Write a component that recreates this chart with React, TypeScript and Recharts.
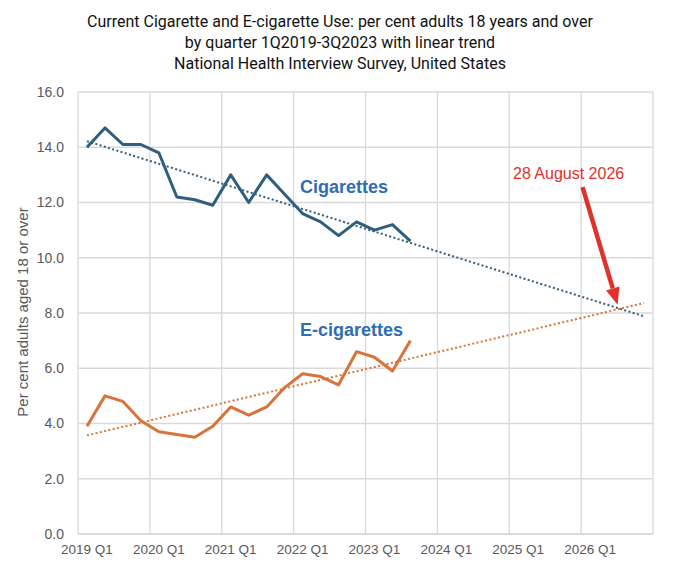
import { LineChart, Line, XAxis, YAxis, CartesianGrid, ReferenceLine } from 'recharts'

// quarter labels along the x axis (one per category, 2019 Q1 .. 2026 Q4)
const years = [2019, 2020, 2021, 2022, 2023, 2024, 2025, 2026]
const quarters = years.flatMap(y => [`${y} Q1`, `${y} Q2`, `${y} Q3`, `${y} Q4`])

// NHIS quarterly estimates, 1Q2019 - 3Q2023
const cigarettes = [14.0, 14.7, 14.1, 14.1, 13.8, 12.2, 12.1, 11.9, 13.0, 12.0, 13.0, 12.3, 11.6, 11.3, 10.8, 11.3, 11.0, 11.2, 10.6]
const eCigarettes = [3.9, 5.0, 4.8, 4.1, 3.7, 3.6, 3.5, 3.9, 4.6, 4.3, 4.6, 5.3, 5.8, 5.7, 5.4, 6.6, 6.4, 5.9, 7.0]

// linear trend end points (first and last quarter)
const cigTrend = [14.22, 7.88]
const eCigTrend = [3.57, 8.36]

const yTicks = [0, 2, 4, 6, 8, 10, 12, 14, 16]
const xTicks = [0, 4, 8, 12, 16, 20, 24, 28]
const gridX = [-0.5, 3.5, 7.5, 11.5, 15.5, 19.5, 23.5, 27.5, 31.5]

// arrow from the annotation to the crossing point
const arrowFrom = { x: 27.58, y: 12.56 }
const arrowTo = { x: 29.53, y: 8.3 }

const last = quarters.length - 1
const data = quarters.map((q, i) => ({
  x: i,
  label: q,
  cig: cigarettes[i] ?? null,
  ecig: eCigarettes[i] ?? null,
  cigTrend: i === 0 ? cigTrend[0] : i === last ? cigTrend[1] : null,
  ecigTrend: i === 0 ? eCigTrend[0] : i === last ? eCigTrend[1] : null,
}))

const CIG = '#2F5E7E'
const ECIG = '#D8733B'
const RED = '#E0322B'
const GRID = '#D9D9D9'
const FONT = '"Liberation Sans", Arial, sans-serif'

function Arrow(props: any) {
  const { x1, y1, x2, y2 } = props
  if ([x1, y1, x2, y2].some(v => typeof v !== 'number')) return null
  const dx = x2 - x1
  const dy = y2 - y1
  const len = Math.sqrt(dx * dx + dy * dy)
  const ux = dx / len
  const uy = dy / len
  const head = 17
  const half = 7
  const bx = x2 - ux * head
  const by = y2 - uy * head
  return (
    <g>
      <line x1={x1} y1={y1} x2={bx} y2={by} stroke={RED} strokeWidth={4.5} />
      <polygon
        points={`${x2},${y2} ${bx - uy * half},${by + ux * half} ${bx + uy * half},${by - ux * half}`}
        fill={RED}
      />
    </g>
  )
}

const textBase = { position: 'absolute' as const, fontFamily: FONT, whiteSpace: 'nowrap' as const }

export default function App() {
  return (
    <div style={{ position: 'absolute', left: 0, top: 0, width: 680, height: 571, background: '#fff' }}>
      <LineChart width={680} height={571} data={data} margin={{ top: 92, right: 27, bottom: 0, left: 0 }}>
        <CartesianGrid vertical={false} stroke={GRID} strokeWidth={1.3} />
        {gridX.map(g => (
          <ReferenceLine key={g} x={g} stroke={GRID} strokeWidth={1.3} />
        ))}
        <XAxis
          type="number"
          dataKey="x"
          domain={[-0.5, 31.5]}
          ticks={xTicks}
          tickFormatter={(i: number) => quarters[i]}
          height={37}
          tickSize={0}
          tickMargin={10}
          axisLine={{ stroke: GRID, strokeWidth: 1.3 }}
          tick={{ fontSize: 13.5, fill: '#595959', fontFamily: FONT }}
          interval={0}
        />
        <YAxis
          domain={[0, 16]}
          ticks={yTicks}
          tickFormatter={(v: number) => v.toFixed(1)}
          width={78}
          tickSize={0}
          tickMargin={14}
          axisLine={false}
          tick={{ fontSize: 14, fill: '#595959', fontFamily: FONT }}
        />
        <Line dataKey="cigTrend" stroke={CIG} strokeWidth={2} strokeDasharray="2 2.4" dot={false} connectNulls isAnimationActive={false} />
        <Line dataKey="ecigTrend" stroke={ECIG} strokeWidth={2} strokeDasharray="2 2.4" dot={false} connectNulls isAnimationActive={false} />
        <Line dataKey="cig" stroke={CIG} strokeWidth={3} dot={false} strokeLinejoin="round" isAnimationActive={false} />
        <Line dataKey="ecig" stroke={ECIG} strokeWidth={3} dot={false} strokeLinejoin="round" isAnimationActive={false} />
        <ReferenceLine segment={[arrowFrom, arrowTo]} ifOverflow="visible" shape={Arrow} />
      </LineChart>

      <div
        style={{
          ...textBase,
          left: 0,
          top: 11,
          width: 680,
          textAlign: 'center',
          fontFamily: '"Liberation Sans Narrow", "Roboto", sans-serif',
          fontSize: 16,
          lineHeight: '21px',
          color: '#111',
        }}
      >
        Current Cigarette and E-cigarette Use: per cent adults 18 years and over
        <br />
        by quarter 1Q2019-3Q2023 with linear trend
        <br />
        National Health Interview Survey, United States
      </div>

      <div
        style={{
          ...textBase,
          left: 22.5 - 140,
          top: 312 - 10,
          width: 280,
          height: 20,
          lineHeight: '20px',
          textAlign: 'center',
          fontSize: 15,
          color: '#595959',
          transform: 'rotate(-90deg)',
        }}
      >
        Per cent adults aged 18 or over
      </div>

      <div style={{ ...textBase, left: 300, top: 176, fontSize: 18, lineHeight: '22px', fontWeight: 'bold', color: '#2E6DB4' }}>
        Cigarettes
      </div>
      <div style={{ ...textBase, left: 300, top: 319, fontSize: 18, lineHeight: '22px', fontWeight: 'bold', color: '#2E6DB4' }}>
        E-cigarettes
      </div>
      <div style={{ ...textBase, left: 513, top: 164, fontSize: 16, lineHeight: '20px', color: RED }}>
        28 August 2026
      </div>
    </div>
  )
}
